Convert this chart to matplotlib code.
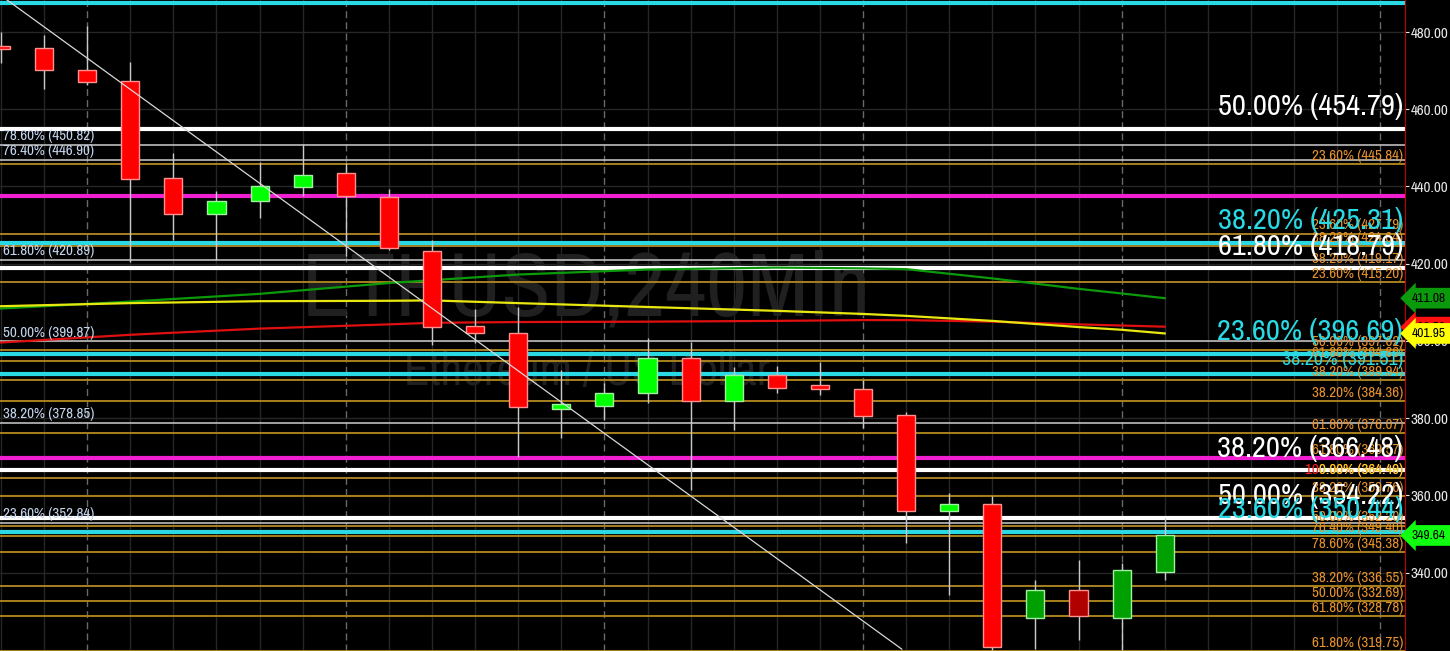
import numpy as np
import matplotlib.pyplot as plt
from matplotlib import font_manager
from matplotlib.font_manager import FontProperties
from matplotlib.textpath import TextPath

# pick a narrow font, the chart software uses a condensed face
available = {f.name for f in font_manager.fontManager.ttflist}
candidates = ['Liberation Sans Narrow', 'Arial Narrow', 'Archivo Narrow',
              'PT Sans Narrow', 'Roboto Condensed', 'Pragati Narrow',
              'Fira Sans Condensed', 'IBM Plex Sans Condensed',
              'Encode Sans Condensed', 'Open Sans Condensed']
narrow = next((f for f in candidates if f in available), 'DejaVu Sans')
plt.rcParams['font.family'] = [narrow, 'DejaVu Sans']


def fit_size(sample, width_px, weight='normal'):
    # font size (pt) that makes sample about width_px wide at 100 dpi
    w = TextPath((0, 0), sample, size=10,
                 prop=FontProperties(family=narrow, weight=weight)).get_extents().width
    return 10 * width_px / (w * 100 / 72)


# ETHUSD 240 min candles
opens = [476.3, 475.8, 470.1, 467.3, 442.1, 432.8, 436.2, 439.9, 443.6, 437.2,
         423.4, 403.9, 402.1, 382.3, 383.2, 386.4, 395.5, 384.5, 391.2, 388.6,
         387.5, 380.8, 356.1, 357.7, 328.2, 335.5, 328.2, 340.2]
highs = [480.0, 479.2, 481.5, 472.2, 448.8, 438.9, 446.3, 450.9, 446.0, 439.3,
         426.1, 408.3, 408.9, 392.5, 389.0, 400.7, 399.7, 393.2, 393.5, 394.6,
         389.9, 381.5, 360.6, 359.9, 338.1, 343.3, 342.6, 354.1]
lows = [472.0, 465.2, 466.3, 420.5, 426.1, 421.0, 431.8, 437.6, 422.0, 423.5,
        399.0, 399.5, 370.0, 374.8, 379.5, 384.0, 361.4, 376.9, 386.4, 386.0,
        377.4, 347.6, 334.2, 320.0, 320.2, 322.6, 320.0, 338.1]
closes = [475.7, 470.2, 467.1, 442.0, 432.8, 436.3, 440.1, 443.0, 437.5, 424.0,
          403.7, 402.0, 383.0, 383.6, 386.4, 395.5, 384.5, 391.2, 387.7, 387.5,
          380.6, 356.1, 357.7, 320.7, 335.5, 328.9, 340.7, 349.64]
n_recent = 4  # last candles drawn in darker colours

# moving averages (bar index, value)
ma_green_x = [0, 3, 6, 9, 12, 15, 18, 20, 21, 23, 25, 26, 27]
ma_green_y = [408.4, 410.2, 412.2, 415.0, 417.2, 418.5, 419.0, 418.8, 418.6, 416.2, 413.5, 412.3, 411.08]
ma_yellow_x = [0, 3, 6, 9, 10, 12, 15, 18, 20, 21, 23, 25, 26, 27]
ma_yellow_y = [409.0, 409.8, 410.3, 410.4, 410.5, 409.8, 408.8, 407.8, 407.0, 406.5, 405.2, 403.6, 402.9, 401.95]
ma_red_x = [0, 3, 6, 9, 10, 12, 15, 18, 20, 21, 23, 25, 27]
ma_red_y = [399.6, 401.6, 403.2, 404.3, 404.7, 404.9, 405.0, 405.2, 405.4, 405.4, 405.0, 404.3, 403.7]

# trendline anchors
trend_x = [0.14, 20.9]
trend_y = [488.3, 320.2]

# horizontal levels
cyan_levels = [487.50, 425.31, 396.69, 391.51, 350.44]
white_levels = [454.79, 418.79, 366.48, 354.22]
gray_levels = [450.82, 446.90, 420.89, 399.87, 378.85, 352.84]
magenta_levels = [437.50, 369.57]
gold_levels = [445.84, 427.79, 424.64, 419.17, 415.20, 397.62, 394.86, 389.94,
               384.36, 376.07, 369.57, 364.49, 359.76, 352.20, 349.40, 345.38,
               336.55, 332.69, 328.78, 319.75]
gold_pcts = [23.60, 23.60, 38.20, 38.20, 23.60, 50.00, 61.80, 38.20,
             38.20, 61.80, 61.80, 0.00, 38.20, 50.00, 76.40, 78.60,
             38.20, 50.00, 61.80, 61.80]
big_pcts = [50.00, 38.20, 61.80, 23.60, 38.20, 50.00, 23.60]
big_prices = [454.79, 425.31, 418.79, 396.69, 366.48, 354.22, 350.44]
big_colors = ['white', '#29d9e3', 'white', '#29d9e3', 'white', 'white', '#29d9e3']
left_pcts = [78.60, 76.40, 61.80, 50.00, 38.20, 23.60]
left_prices = [450.82, 446.90, 420.89, 399.87, 378.85, 352.84]

tag_values = [411.08, 403.58, 401.95, 349.64]
tag_colors = ['#0b9a0b', '#ff1010', '#ffff00', '#10ff10']

yticks = [340, 360, 380, 400, 420, 440, 460, 480]

fs_small = fit_size('23.60% (445.84)', 90)
fs_mid = fit_size('38.20% (391.51)', 120)
fs_big = fit_size('50.00% (454.79)', 182)
fs_tick = fit_size('480.00', 37)
fs_tag = fit_size('411.08', 33)
fs_wm = fit_size('ETHUSD,240Min', 558, 'bold')
fs_wm2 = fit_size('Ethereum / US Dollar', 362, 'bold')

fig = plt.figure(figsize=(14.5, 6.51), dpi=100, facecolor='black')
ax = fig.add_axes([0, 0, 1405 / 1450, 1])
ax.set_facecolor('black')
ax.set_xlim(-0.023, 32.575)
ax.set_ylim(319.72, 488.29)

# grid
for i in range(33):
    if i % 6 == 2:
        ax.axvline(i, color='#6a6a6a', lw=1, ls=(0, (5, 3)), zorder=0)
    else:
        ax.axvline(i, color='#262626', lw=1, zorder=0)
for t in yticks:
    ax.axhline(t, color='#262626', lw=1, zorder=0)

# watermark
ax.text(13.57, 413.0, 'ETHUSD,240Min', color='#202020', fontsize=fs_wm,
        fontweight='bold', ha='center', va='center', zorder=0.5)
ax.text(13.6, 392.0, 'Ethereum / US Dollar', color='#202020', fontsize=fs_wm2,
        fontweight='bold', ha='center', va='center', zorder=0.5)

# levels
for p in gold_levels:
    ax.axhline(p, color='#a8801c', lw=1.4, zorder=1)
for p in gray_levels:
    ax.axhline(p, color='#bdbdbd', lw=1.2, zorder=1.2)
for p in magenta_levels:
    ax.axhline(p, color='#f020d0', lw=3, zorder=1.3)
for p in white_levels:
    ax.axhline(p, color='white', lw=3, zorder=1.4)
for p in cyan_levels:
    ax.axhline(p, color='#29d9e3', lw=3, zorder=1.5)

# moving averages
ax.plot(ma_green_x, ma_green_y, color='#0a9a0a', lw=1.6, zorder=2)
ax.plot(ma_red_x, ma_red_y, color='#e01010', lw=1.6, zorder=2)
ax.plot(ma_yellow_x, ma_yellow_y, color='#e8e810', lw=1.6, zorder=2)

# candles
x = np.arange(len(opens))
o = np.array(opens)
c = np.array(closes)
up = c >= o
recent = x >= len(opens) - n_recent
body_col = np.where(up, np.where(recent, '#00a000', '#00ff00'),
                    np.where(recent, '#b00000', '#ff0000'))
edge_col = np.where(up, '#a0f0a0', '#ff9090')
ax.vlines(x, lows, highs, color='#c8c8c8', lw=1, zorder=3)
ax.bar(x, np.abs(c - o), bottom=np.minimum(o, c), width=0.42,
       color=body_col, edgecolor=edge_col, linewidth=1, zorder=4)

# trendline
ax.plot(trend_x, trend_y, color='#d8d8d8', lw=0.9, zorder=5)

# labels
tr = ax.get_yaxis_transform()
for pct, p in zip(gold_pcts, gold_levels):
    if pct == 0:
        continue
    ax.annotate(f'{pct:.2f}% ({p:.2f})', (0.9985, p), xycoords=tr,
                xytext=(0, 3), textcoords='offset points', ha='right',
                va='baseline', color='#e8922c', fontsize=fs_small, zorder=6)
ax.annotate('100.00% (364.49)', (0.9985, 364.49), xycoords=tr, xytext=(0, 3),
            textcoords='offset points', ha='right', va='baseline',
            color='#ff1a1a', fontsize=fs_small, zorder=6)
ax.annotate('0.00% (364.49)', (0.9985, 364.49), xycoords=tr, xytext=(0, 3),
            textcoords='offset points', ha='right', va='baseline',
            color='#f0e020', fontsize=fs_small, zorder=6.1)
for pct, p in zip(left_pcts, left_prices):
    ax.annotate(f'{pct:.2f}% ({p:.2f})', (0.002, p), xycoords=tr,
                xytext=(0, 3.5), textcoords='offset points', ha='left',
                va='baseline', color='#c4d4ec', fontsize=fs_small, zorder=6)
ax.annotate('38.20% (391.51)', (0.9985, 391.51), xycoords=tr, xytext=(0, 6),
            textcoords='offset points', ha='right', va='baseline',
            color='#29d9e3', fontsize=fs_mid, zorder=7)
for pct, p, col in zip(big_pcts, big_prices, big_colors):
    ax.annotate(f'{pct:.2f}% ({p:.2f})', (0.9985, p), xycoords=tr,
                xytext=(0, 10), textcoords='offset points', ha='right',
                va='baseline', color=col, fontsize=fs_big, zorder=7)

# right axis
ax.yaxis.tick_right()
ax.set_yticks(yticks)
ax.set_yticklabels([f'{t:.2f}' for t in yticks])
ax.tick_params(axis='y', colors='#e8e8e8', labelsize=fs_tick, length=3, pad=1)
ax.set_xticks([])
for s in ['top', 'bottom', 'left']:
    ax.spines[s].set_visible(False)
ax.spines['right'].set_color('#c00000')

for v, col in zip(tag_values, tag_colors):
    ax.annotate(f'{v:.2f}', (1.0, v), xycoords=tr, xytext=(5, 0),
                textcoords='offset points', ha='left', va='center',
                fontsize=fs_tag, color='black', annotation_clip=False,
                bbox=dict(boxstyle='larrow,pad=0.36', fc=col, ec='none'),
                zorder=8)

fig.savefig('out.png', dpi=100, facecolor='black')
